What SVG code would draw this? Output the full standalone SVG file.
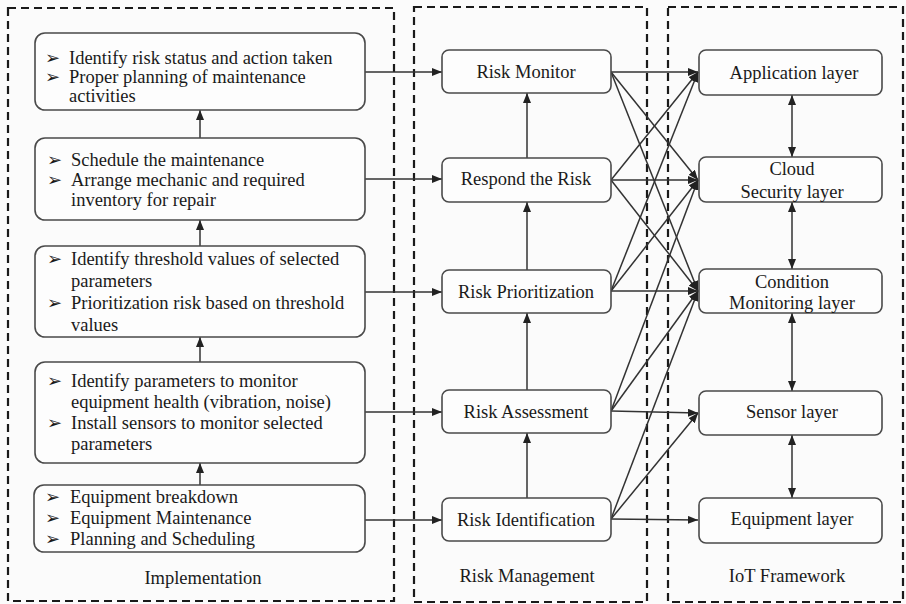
<svg xmlns="http://www.w3.org/2000/svg" width="906" height="604" viewBox="0 0 906 604">
<defs>
<marker id="ah" viewBox="0 0 10 8" refX="10" refY="4" markerWidth="10" markerHeight="8" markerUnits="userSpaceOnUse" orient="auto-start-reverse">
<path d="M0,0 L10,4 L0,8 z" fill="#222"/>
</marker>
<style>
.bg{fill:#fbfbfb}
.cont{fill:none;stroke:#1a1a1a;stroke-width:2.2;stroke-dasharray:8,5}
.box{fill:#fdfdfd;stroke:#4a4a4a;stroke-width:1.6}
.t{font-family:"Liberation Serif","Times New Roman",serif;font-size:18.5px;fill:#1a1a1a}
.c{text-anchor:middle}
.b{font-family:"DejaVu Sans",sans-serif;font-size:18px;fill:#1a1a1a}
.ln{stroke:#333;stroke-width:1.5;fill:none}
.ar{marker-end:url(#ah)}
.dar{marker-start:url(#ah);marker-end:url(#ah)}
</style>
</defs>
<rect class="bg" x="0" y="0" width="906" height="604"/>
<g id="containers">
<rect class="cont" x="8" y="8" width="386" height="593"/>
<rect class="cont" x="414" y="7" width="233" height="595"/>
<rect class="cont" x="668" y="7" width="235" height="595"/>
<text class="t c" x="203" y="584">Implementation</text>
<text class="t c" x="527" y="582">Risk Management</text>
<text class="t c" x="787" y="582">IoT Framework</text>
</g>
<g id="connectors">
<line class="ln ar" x1="200" y1="138" x2="200" y2="110"/>
<line class="ln ar" x1="200" y1="246" x2="200" y2="220"/>
<line class="ln ar" x1="200" y1="362" x2="200" y2="337"/>
<line class="ln ar" x1="200" y1="485" x2="200" y2="463"/>
<line class="ln ar" x1="365" y1="72" x2="442" y2="72"/>
<line class="ln ar" x1="365" y1="179" x2="442" y2="179"/>
<line class="ln ar" x1="365" y1="292" x2="442" y2="292"/>
<line class="ln ar" x1="365" y1="412" x2="442" y2="412"/>
<line class="ln ar" x1="365" y1="520" x2="442" y2="520"/>
<line class="ln ar" x1="527" y1="158" x2="527" y2="93"/>
<line class="ln ar" x1="527" y1="270" x2="527" y2="202"/>
<line class="ln ar" x1="527" y1="390" x2="527" y2="313"/>
<line class="ln ar" x1="527" y1="498" x2="527" y2="433"/>
<line class="ln dar" x1="792" y1="95" x2="792" y2="157"/>
<line class="ln dar" x1="792" y1="202" x2="792" y2="269"/>
<line class="ln dar" x1="792" y1="313" x2="792" y2="391"/>
<line class="ln dar" x1="792" y1="435" x2="792" y2="498"/>
<line class="ln ar" x1="611" y1="72" x2="698" y2="72"/>
<line class="ln ar" x1="611" y1="72" x2="698" y2="180"/>
<line class="ln ar" x1="611" y1="72" x2="698" y2="291"/>
<line class="ln ar" x1="611" y1="180" x2="698" y2="72"/>
<line class="ln ar" x1="611" y1="180" x2="698" y2="180"/>
<line class="ln ar" x1="611" y1="180" x2="698" y2="291"/>
<line class="ln ar" x1="611" y1="291" x2="698" y2="72"/>
<line class="ln ar" x1="611" y1="291" x2="698" y2="180"/>
<line class="ln ar" x1="611" y1="291" x2="698" y2="291"/>
<line class="ln ar" x1="611" y1="411" x2="698" y2="180"/>
<line class="ln ar" x1="611" y1="411" x2="698" y2="291"/>
<line class="ln ar" x1="611" y1="411" x2="698" y2="413"/>
<line class="ln ar" x1="611" y1="519" x2="698" y2="291"/>
<line class="ln ar" x1="611" y1="519" x2="698" y2="413"/>
<line class="ln ar" x1="611" y1="519" x2="698" y2="520"/>
</g>
<g id="impl1">
<rect class="box" x="35" y="33" width="330" height="77" rx="10"/>
<text class="b" x="45" y="64">➢</text><text class="t" x="69" y="64">Identify risk status and action taken</text>
<text class="b" x="45" y="83">➢</text><text class="t" x="69" y="83">Proper planning of maintenance</text>
<text class="t" x="69" y="102">activities</text>
</g>
<g id="impl2">
<rect class="box" x="35" y="138" width="330" height="82" rx="10"/>
<text class="b" x="47" y="166">➢</text><text class="t" x="71" y="166">Schedule the maintenance</text>
<text class="b" x="47" y="186">➢</text><text class="t" x="71" y="186">Arrange mechanic and required</text>
<text class="t" x="71" y="206">inventory for repair</text>
</g>
<g id="impl3">
<rect class="box" x="35" y="246" width="330" height="91" rx="10"/>
<text class="b" x="47" y="265">➢</text><text class="t" x="71" y="265">Identify threshold values of selected</text>
<text class="t" x="71" y="287">parameters</text>
<text class="b" x="47" y="309">➢</text><text class="t" x="71" y="309">Prioritization risk based on threshold</text>
<text class="t" x="71" y="331">values</text>
</g>
<g id="impl4">
<rect class="box" x="35" y="362" width="330" height="101" rx="10"/>
<text class="b" x="47" y="387">➢</text><text class="t" x="71" y="387">Identify parameters to monitor</text>
<text class="t" x="71" y="408">equipment health (vibration, noise)</text>
<text class="b" x="47" y="429">➢</text><text class="t" x="71" y="429">Install sensors to monitor selected</text>
<text class="t" x="71" y="450">parameters</text>
</g>
<g id="impl5">
<rect class="box" x="34" y="485" width="331" height="67" rx="10"/>
<text class="b" x="45" y="503">➢</text><text class="t" x="70" y="503">Equipment breakdown</text>
<text class="b" x="45" y="524">➢</text><text class="t" x="70" y="524">Equipment Maintenance</text>
<text class="b" x="45" y="545">➢</text><text class="t" x="70" y="545">Planning and Scheduling</text>
</g>
<g id="riskMonitor">
<rect class="box" x="442" y="50" width="169" height="43" rx="7"/>
<text class="t c" x="526" y="78">Risk Monitor</text>
</g>
<g id="respondRisk">
<rect class="box" x="442" y="158" width="169" height="44" rx="7"/>
<text class="t c" x="526" y="185">Respond the Risk</text>
</g>
<g id="riskPrioritization">
<rect class="box" x="442" y="270" width="169" height="43" rx="7"/>
<text class="t c" x="526" y="298">Risk Prioritization</text>
</g>
<g id="riskAssessment">
<rect class="box" x="442" y="390" width="169" height="43" rx="7"/>
<text class="t c" x="526" y="418">Risk Assessment</text>
</g>
<g id="riskIdentification">
<rect class="box" x="442" y="498" width="169" height="43" rx="7"/>
<text class="t c" x="526" y="526">Risk Identification</text>
</g>
<g id="appLayer">
<rect class="box" x="699" y="50" width="183" height="45" rx="7"/>
<text class="t c" x="794" y="79">Application layer</text>
</g>
<g id="cloudLayer">
<rect class="box" x="699" y="157" width="183" height="45" rx="7"/>
<text class="t c" x="792" y="175">Cloud</text>
<text class="t c" x="792" y="198">Security layer</text>
</g>
<g id="conditionLayer">
<rect class="box" x="699" y="269" width="183" height="44" rx="7"/>
<text class="t c" x="792" y="288">Condition</text>
<text class="t c" x="792" y="309">Monitoring layer</text>
</g>
<g id="sensorLayer">
<rect class="box" x="699" y="391" width="183" height="44" rx="7"/>
<text class="t c" x="792" y="418">Sensor layer</text>
</g>
<g id="equipmentLayer">
<rect class="box" x="699" y="498" width="183" height="45" rx="7"/>
<text class="t c" x="792" y="525">Equipment layer</text>
</g>
</svg>
